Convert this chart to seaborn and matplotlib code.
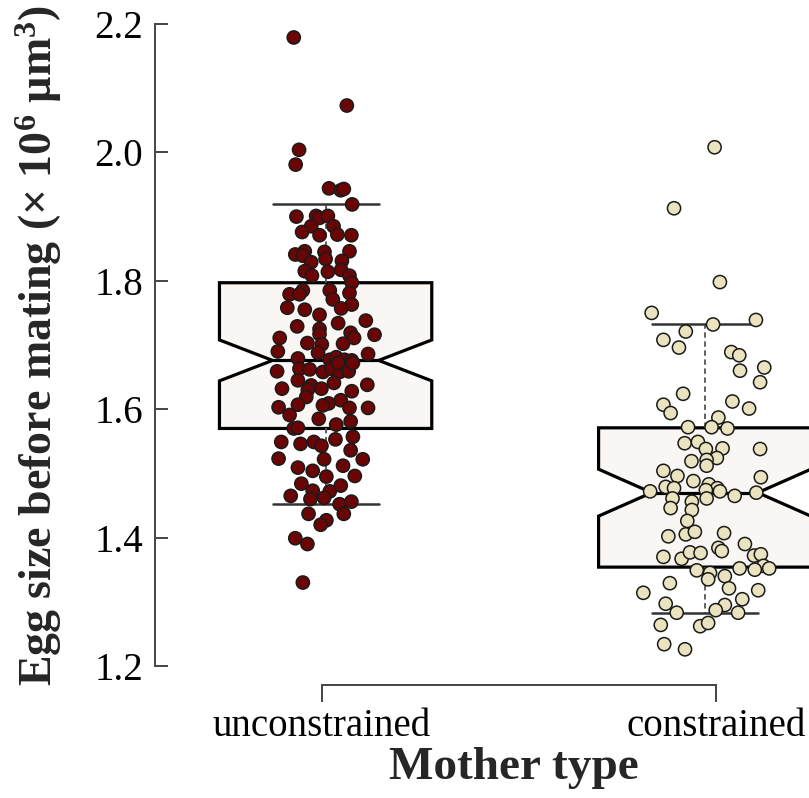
import matplotlib
matplotlib.use("Agg")
import matplotlib.pyplot as plt
import pandas as pd
import seaborn as sns

# Mother types shown on the x axis
groups = ["unconstrained", "constrained"]

# Egg size before mating (x 10^6 um^3) of each female, with its horizontal jitter
unconstrained_size = [
    2.179, 2.073, 2.004, 1.981,
    1.944, 1.941, 1.943, 1.919, 1.900, 1.901, 1.898, 1.901, 1.885, 1.885, 1.876, 1.871,
    1.872, 1.871, 1.841, 1.846, 1.839, 1.845, 1.834, 1.846, 1.831, 1.829, 1.815, 1.814, 1.817,
    1.808, 1.808, 1.797, 1.779, 1.785, 1.779, 1.785, 1.781, 1.771, 1.763, 1.757, 1.758,
    1.755, 1.747, 1.738, 1.734, 1.729, 1.725, 1.717, 1.719, 1.711, 1.716, 1.711, 1.703,
    1.701, 1.702, 1.690, 1.688, 1.686, 1.679, 1.677, 1.681, 1.677, 1.676,
    1.663, 1.662, 1.658, 1.663, 1.658, 1.659, 1.672, 1.672, 1.659,
    1.645, 1.637, 1.630, 1.632, 1.641, 1.628, 1.638, 1.632, 1.619, 1.614, 1.609, 1.606,
    1.602, 1.602, 1.607, 1.603, 1.591, 1.585, 1.581, 1.576, 1.570, 1.571, 1.557, 1.553,
    1.549, 1.546, 1.549, 1.543, 1.536, 1.523, 1.522, 1.522,
    1.509, 1.504, 1.512, 1.495, 1.496, 1.484, 1.481, 1.473, 1.472, 1.465, 1.460, 1.462,
    1.452, 1.456, 1.437, 1.437, 1.427, 1.420, 1.399, 1.390, 1.330,
]
unconstrained_jitter = [
    -0.084, 0.056, -0.070, -0.079,
    0.009, 0.040, 0.048, 0.070, -0.077, -0.025, -0.016, 0.006, -0.038, 0.021, -0.062, -0.016,
    0.031, 0.068, -0.080, -0.055, -0.060, -0.003, 0.000, 0.063, 0.043, -0.038, -0.055, 0.006, 0.041,
    -0.036, 0.063, 0.069, -0.095, -0.060, -0.069, 0.011, 0.063, 0.019, 0.069, 0.041, -0.101,
    -0.055, -0.016, 0.106, 0.033, -0.075, -0.016, -0.016, 0.066, 0.075, 0.129, -0.121, -0.048,
    -0.010, 0.046, -0.126, -0.020, 0.112, -0.073, 0.011, 0.028, 0.050, 0.069,
    -0.069, -0.042, -0.007, 0.015, 0.037, 0.061, 0.033, 0.072, -0.128,
    -0.073, -0.038, -0.047, -0.011, 0.022, 0.069, 0.110, -0.115, -0.051, 0.040, 0.008, -0.007,
    0.063, 0.112, -0.073, -0.124, -0.095, -0.018, 0.066, 0.028, -0.084, -0.073, 0.072, 0.026,
    -0.117, -0.066, -0.031, -0.011, 0.066, -0.124, -0.004, 0.098,
    -0.073, -0.034, 0.046, 0.002, 0.077, -0.064, 0.040, -0.034, 0.011, -0.092, -0.040, -0.004,
    0.037, 0.068, -0.045, 0.048, 0.002, -0.013, -0.080, -0.048, -0.060,
]
constrained_size = [
    2.008, 1.913, 1.798, 1.750, 1.732, 1.739, 1.721, 1.708, 1.696, 1.689, 1.684, 1.660,
    1.665, 1.642, 1.624, 1.607, 1.612, 1.601,
    1.594, 1.587, 1.572, 1.572, 1.570, 1.547, 1.549, 1.538, 1.539, 1.538, 1.524, 1.521,
    1.519, 1.512, 1.504, 1.496, 1.494, 1.488, 1.479, 1.477, 1.472, 1.483, 1.477, 1.472,
    1.474, 1.465, 1.470, 1.461, 1.461, 1.456, 1.446,
    1.443, 1.426, 1.402, 1.405, 1.409, 1.407, 1.390, 1.370, 1.367, 1.377, 1.376, 1.384,
    1.379, 1.372, 1.374, 1.356, 1.352, 1.352, 1.350, 1.349, 1.345, 1.335, 1.340, 1.329,
    1.314, 1.321, 1.318, 1.297, 1.283, 1.295, 1.304, 1.287, 1.283, 1.264, 1.262, 1.267,
    1.234, 1.226,
]
constrained_jitter = [
    0.026, -0.081, 0.040, -0.140, 0.022, 0.135, -0.050, -0.109, -0.068, 0.070, 0.091, 0.093,
    0.157, 0.146, -0.057, -0.109, 0.073, 0.117,
    -0.090, 0.036, -0.044, 0.018, 0.060, -0.053, -0.018, 0.003, 0.047, 0.146, 0.032, 0.005,
    -0.035, 0.005, -0.109, -0.072, 0.148, -0.030, -0.103, -0.081, -0.144, 0.011, 0.033, 0.040,
    0.003, 0.079, 0.136, -0.085, 0.005, -0.034, -0.090,
    -0.034, -0.046, -0.096, -0.050, -0.026, 0.051, 0.106, -0.109, -0.061, -0.039, -0.011, 0.036,
    0.045, 0.130, 0.148, 0.155, 0.170, 0.092, 0.132, -0.021, 0.014, 0.009, 0.053, -0.092,
    -0.162, 0.064, 0.141, -0.103, -0.074, 0.053, 0.099, 0.029, 0.088, -0.116, -0.012, 0.009,
    -0.107, -0.052,
]

y_ticks = [1.2, 1.4, 1.6, 1.8, 2.0, 2.2]
point_colors = {"unconstrained": "#6b0505", "constrained": "#eae3bf"}

sns.set_theme(style="ticks")
plt.rcParams["font.family"] = ["Liberation Serif", "DejaVu Serif"]
plt.rcParams["mathtext.default"] = "regular"

rows = []
for i, (g, sizes, jit) in enumerate(zip(
        groups,
        [unconstrained_size, constrained_size],
        [unconstrained_jitter, constrained_jitter])):
    for s, j in zip(sizes, jit):
        rows.append({"mother": g, "pos": i, "size": s, "xj": i + j})
df = pd.DataFrame(rows)

W, H = 809, 798
fig = plt.figure(figsize=(W / 100, H / 100), dpi=100)
ax = fig.add_axes([155 / W, (H - 666) / H, 654 / W, 642 / H])

sns.boxplot(
    data=df, x="pos", y="size", native_scale=True, orient="x",
    notch=True, whis=(5, 95), showfliers=False, width=0.56,
    color="#f9f6f3", saturation=1, linecolor="black", linewidth=2.3,
    whiskerprops=dict(color="#555555", linestyle=(0, (3, 2)), linewidth=1.3),
    capprops=dict(color="#333333", linewidth=1.8),
    ax=ax,
)
sns.scatterplot(
    data=df, x="xj", y="size", hue="mother", palette=point_colors,
    edgecolor="#1a1a1a", linewidth=1.1, s=90, legend=False, ax=ax, zorder=5,
)

ax.set_xlim(-0.45, 1.275)
ax.set_ylim(1.2, 2.2)
ax.set_yticks(y_ticks, [f"{t:.1f}" for t in y_ticks])
# category ticks sit at the ends of the bracket-style x axis
x_tick_pos = [-0.01, 1.03]
ax.set_xticks(x_tick_pos, groups)

sns.despine(ax=ax, offset={"bottom": 14})
ax.spines["left"].set_bounds(1.2, 2.2)
ax.spines["bottom"].set_bounds(x_tick_pos[0], x_tick_pos[1])
for side in ("left", "bottom"):
    ax.spines[side].set_color("#444444")
    ax.spines[side].set_linewidth(1.4)

ax.tick_params(axis="y", direction="in", colors="#444444", width=1.4, length=9,
               pad=8.5, labelsize=28, labelcolor="black")
ax.tick_params(axis="x", direction="out", colors="#444444", width=1.4, length=12,
               pad=4, labelsize=28, labelcolor="black")

ax.set_xlabel("Mother type", fontsize=34, fontweight="bold")
ax.set_ylabel("Egg size before mating (× 10$^{6}$ µm$^{3}$)", fontsize=33,
              fontweight="bold", labelpad=22)
ax.xaxis.set_label_coords((514 - 155) / 654, -0.126)

fig.savefig("out.png", dpi=100)
